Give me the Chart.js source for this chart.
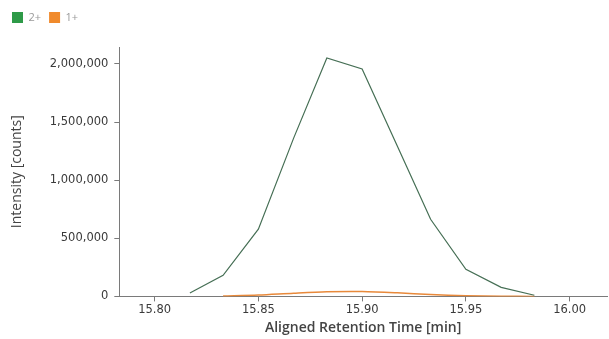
<!DOCTYPE html>
<html>
<head>
<meta charset="utf-8">
<script src="https://cdn.jsdelivr.net/npm/chart.js@4/dist/chart.umd.min.js"></script>
<style>
  html, body { margin: 0; padding: 0; background: #fff; }
  #wrap { width: 609px; height: 339px; }
</style>
</head>
<body>
<div id="wrap"><canvas id="chart" width="609" height="339"></canvas></div>
<script>
// retention times (min) and intensities
const timesCharge2 = [15.817, 15.833, 15.850, 15.867, 15.883, 15.900, 15.917, 15.933, 15.950, 15.967, 15.983];
const intensityCharge2 = [30000, 181000, 578000, 1362000, 2052000, 1957000, 1293000, 664000, 233000, 78000, 10000];
const timesCharge1 = [15.833, 15.850, 15.867, 15.883, 15.900, 15.917, 15.933, 15.950, 15.967, 15.983];
const intensityCharge1 = [3000, 12000, 28000, 40000, 42000, 31000, 16000, 6000, 2000, 0];
const xTicks = [15.80, 15.85, 15.90, 15.95, 16.00];
const yTicks = [0, 500000, 1000000, 1500000, 2000000];
const seriesLabels = ['2+', '1+'];

function toPoints(xs, ys) {
    return xs.map((x, i) => ({ x: x, y: ys[i] }));
}

const axisColor = '#7a7a7a';
const textColor = '#3a3a3a';

// a bit of room under the legend
const legendGap = {
    id: 'legendGap',
    beforeInit(chart) {
        const fit = chart.legend.fit;
        chart.legend.fit = function() {
            fit.bind(chart.legend)();
            this.height += 14;
        };
    }
};

new Chart(document.getElementById('chart').getContext('2d'), {
    type: 'line',
    data: {
        datasets: [{
            label: seriesLabels[0],
            data: toPoints(timesCharge2, intensityCharge2),
            borderColor: '#466f55',
            backgroundColor: '#2e9a48',
            borderWidth: 1.2,
            pointRadius: 0,
            tension: 0
        }, {
            label: seriesLabels[1],
            data: toPoints(timesCharge1, intensityCharge1),
            borderColor: '#e8893a',
            backgroundColor: '#f08a2c',
            borderWidth: 1.5,
            pointRadius: 0,
            tension: 0.3
        }]
    },
    plugins: [legendGap],
    options: {
        responsive: false,
        animation: false,
        layout: { padding: { left: 4, right: 2, top: 4, bottom: 1 } },
        plugins: {
            legend: {
                position: 'top',
                align: 'start',
                labels: {
                    boxWidth: 11,
                    boxHeight: 11,
                    padding: 8,
                    color: '#999',
                    font: { family: 'Open Sans', size: 11 },
                    generateLabels: chart => chart.data.datasets.map((ds, i) => ({
                        text: ds.label,
                        fillStyle: ds.backgroundColor,
                        strokeStyle: ds.backgroundColor,
                        lineWidth: 0,
                        fontColor: '#999',
                        datasetIndex: i
                    }))
                }
            },
            tooltip: { enabled: false }
        },
        scales: {
            x: {
                type: 'linear',
                min: 15.783,
                max: 16.018,
                afterBuildTicks: axis => { axis.ticks = xTicks.map(v => ({ value: v })); },
                ticks: {
                    color: textColor,
                    font: { family: 'DejaVu Sans', size: 11.5 },
                    padding: 2,
                    maxRotation: 0,
                    callback: v => v.toFixed(2)
                },
                grid: { drawOnChartArea: false, drawTicks: true, tickLength: 5, color: axisColor },
                border: { color: axisColor, width: 1 },
                title: {
                    display: true,
                    text: 'Aligned Retention Time [min]',
                    color: '#444',
                    font: { family: 'Open Sans', size: 14, weight: '600' },
                    padding: { top: 0, bottom: 2 }
                }
            },
            y: {
                min: 0,
                max: 2146000,
                afterBuildTicks: axis => { axis.ticks = yTicks.map(v => ({ value: v })); },
                ticks: {
                    color: textColor,
                    font: { family: 'DejaVu Sans', size: 11.5 },
                    padding: 6,
                    callback: v => v.toLocaleString('en-US')
                },
                grid: { drawOnChartArea: false, drawTicks: true, tickLength: 5, color: axisColor },
                border: { color: axisColor, width: 1 },
                title: {
                    display: true,
                    text: 'Intensity [counts]',
                    color: '#444',
                    font: { family: 'Open Sans', size: 14 },
                    padding: { top: 5, bottom: 18 }
                }
            }
        }
    }
});
</script>
</body>
</html>
